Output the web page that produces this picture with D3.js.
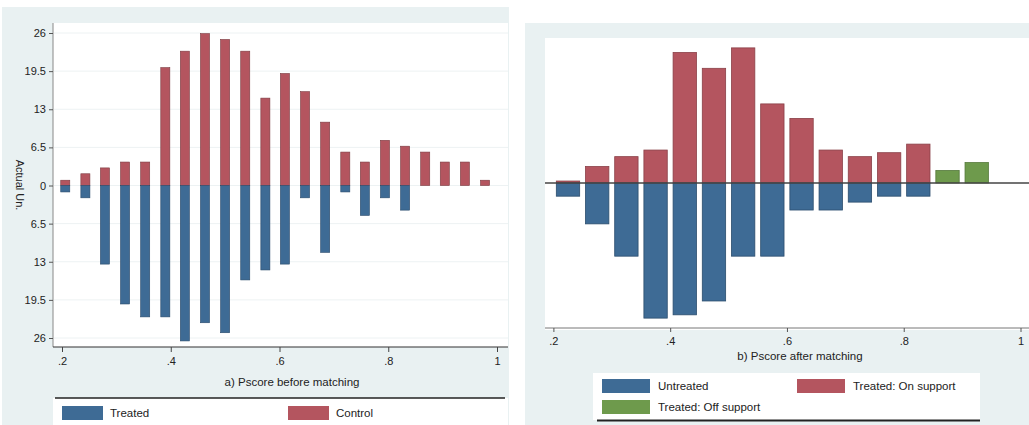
<!DOCTYPE html>
<html>
<head>
<meta charset="utf-8">
<script src="https://cdn.jsdelivr.net/npm/d3@7"></script>
<style>
  html, body { margin: 0; padding: 0; background: #ffffff; }
  svg { display: block; font-family: "Liberation Sans", Arial, sans-serif; }
</style>
</head>
<body>
<svg id="chart" width="1029" height="425"></svg>
<script>
// ---- Panel a: propensity score before matching ----
const binsBefore = [0.206, 0.243, 0.279, 0.316, 0.353, 0.390, 0.426, 0.463, 0.500, 0.537, 0.574,
                    0.610, 0.647, 0.684, 0.721, 0.757, 0.794, 0.831, 0.868, 0.904, 0.941, 0.978];
const controlBefore = [0.9, 2.0, 3.0, 4.0, 4.0, 20.1, 22.9, 25.9, 24.9, 22.9, 14.9,
                       19.1, 16.0, 10.8, 5.7, 4.0, 7.7, 6.7, 5.7, 4.0, 4.0, 0.9];
const treatedBefore = [1.1, 2.1, 13.4, 20.2, 22.4, 22.4, 26.5, 23.4, 25.1, 16.1, 14.4,
                       13.4, 2.1, 11.4, 1.1, 5.1, 2.1, 4.2, 0, 0, 0, 0];
const yTicksBefore = [-26, -19.5, -13, -6.5, 0, 6.5, 13, 19.5, 26];
const xTicks = [0.2, 0.4, 0.6, 0.8, 1.0];
const xTickLabels = [".2", ".4", ".6", ".8", "1"];

// ---- Panel b: propensity score after matching ----
const binsAfter = [0.225, 0.275, 0.325, 0.375, 0.425, 0.475, 0.525, 0.575,
                   0.625, 0.675, 0.725, 0.775, 0.825, 0.875, 0.925];
const untreatedAfter = [2, 6.2, 11.1, 20.5, 20, 17.9, 11.1, 11.1, 4.1, 4.1, 2.9, 2, 2, 0, 0];
const onSupportAfter = [0.3, 2.5, 4, 5, 19.8, 17.4, 20.5, 12, 9.8, 5, 4, 4.6, 5.9, 0, 0];
const offSupportAfter = [0, 0, 0, 0, 0, 0, 0, 0, 0, 0, 0, 0, 0, 1.9, 3.1];

const colBlue = "#3e6b95", colRed = "#b4555f", colGreen = "#6e9a4c";
const panelBg = "#e9f1f2", ink = "#222";

const svg = d3.select("#chart");

// ================= Panel a =================
const A = svg.append("g");
A.append("rect").attr("x", 2).attr("y", 7).attr("width", 507).attr("height", 418).attr("fill", panelBg);
A.append("rect").attr("x", 53).attr("y", 23).attr("width", 455).attr("height", 324).attr("fill", "#fff");

const xA = d3.scaleLinear().domain([0.2, 1.0]).range([62, 497]);
const yA = d3.scaleLinear().domain([-26, 26]).range([338, 33]);
const bwA = (xA(binsBefore[1]) - xA(binsBefore[0])) * 0.45;

// gridlines
A.append("g").selectAll("line").data(yTicksBefore).join("line")
  .attr("x1", 54).attr("x2", 508)
  .attr("y1", d => yA(d)).attr("y2", d => yA(d))
  .attr("stroke", "#edf2f3").attr("stroke-width", 1);

// control bars (upward)
A.append("g").selectAll("rect").data(binsBefore.map((b, i) => [b, controlBefore[i]])).join("rect")
  .attr("x", d => xA(d[0]) - bwA / 2).attr("width", bwA)
  .attr("y", d => yA(d[1])).attr("height", d => yA(0) - yA(d[1]))
  .attr("fill", colRed).attr("stroke", "#7a3a40").attr("stroke-width", 0.6);

// treated bars (downward)
A.append("g").selectAll("rect").data(binsBefore.map((b, i) => [b, treatedBefore[i]]).filter(d => d[1] > 0)).join("rect")
  .attr("x", d => xA(d[0]) - bwA / 2).attr("width", bwA)
  .attr("y", yA(0)).attr("height", d => yA(-d[1]) - yA(0))
  .attr("fill", colBlue).attr("stroke", "#28496a").attr("stroke-width", 0.6);

// y axis
const yAxisA = d3.axisLeft(yA).tickValues(yTicksBefore).tickSize(4)
  .tickFormat(d => String(Math.abs(d)));
A.append("g").attr("transform", "translate(53,0)").call(yAxisA)
  .call(g => g.select(".domain").attr("d", "M0,23V347").attr("stroke", "#888"))
  .call(g => g.selectAll(".tick line").attr("stroke", "#555"))
  .call(g => g.selectAll("text").attr("font-size", 11).attr("fill", ink)
    .attr("font-family", "Liberation Sans, Arial, sans-serif"));

A.append("text").attr("transform", "translate(16,185) rotate(90)")
  .attr("text-anchor", "middle").attr("font-size", 11).attr("fill", ink)
  .text("Actual Un.");

// x axis
const xAxisA = d3.axisBottom(xA).tickValues(xTicks).tickSize(5)
  .tickFormat((d, i) => xTickLabels[i]);
A.append("g").attr("transform", "translate(0,347)").call(xAxisA)
  .call(g => g.select(".domain").attr("d", "M53,0H508").attr("stroke", "#333").attr("stroke-width", 1.2))
  .call(g => g.selectAll(".tick line").attr("stroke", "#444"))
  .call(g => g.selectAll("text").attr("font-size", 11).attr("fill", ink).attr("dy", "0.9em")
    .attr("font-family", "Liberation Sans, Arial, sans-serif"));

A.append("text").attr("x", 292).attr("y", 386).attr("text-anchor", "middle")
  .attr("font-size", 11.5).attr("fill", ink).text("a)   Pscore before matching");

// legend
A.append("rect").attr("x", 53).attr("y", 398).attr("width", 455).attr("height", 27).attr("fill", "#fff");
A.append("line").attr("x1", 55).attr("x2", 505).attr("y1", 398).attr("y2", 398)
  .attr("stroke", "#222").attr("stroke-width", 1.5);
const legA = [{ label: "Treated", color: colBlue, x: 62 }, { label: "Control", color: colRed, x: 288 }];
const lgA = A.append("g").selectAll("g").data(legA).join("g");
lgA.append("rect").attr("x", d => d.x).attr("y", 406).attr("width", 41).attr("height", 14).attr("fill", d => d.color);
lgA.append("text").attr("x", d => d.x + 48).attr("y", 417).attr("font-size", 11.5).attr("fill", ink).text(d => d.label);

// ================= Panel b =================
const B = svg.append("g");
B.append("rect").attr("x", 525).attr("y", 23).attr("width", 504).attr("height", 402).attr("fill", panelBg);
B.append("rect").attr("x", 545).attr("y", 38).attr("width", 484).attr("height", 292).attr("fill", "#fff");

const xB = d3.scaleLinear().domain([0.2, 1.0]).range([553.4, 1020.5]);
const yB = d3.scaleLinear().domain([-22, 22]).range([328, 38]);
const bwB = (xB(binsAfter[1]) - xB(binsAfter[0])) * 0.8;

const stack = (vals, dir) => binsAfter.map((b, i) => [b, vals[i]]).filter(d => d[1] > 0);

B.append("g").selectAll("rect").data(stack(onSupportAfter)).join("rect")
  .attr("x", d => xB(d[0]) - bwB / 2).attr("width", bwB)
  .attr("y", d => yB(d[1])).attr("height", d => yB(0) - yB(d[1]))
  .attr("fill", colRed).attr("stroke", "#8a4048").attr("stroke-width", 0.8);

B.append("g").selectAll("rect").data(stack(offSupportAfter)).join("rect")
  .attr("x", d => xB(d[0]) - bwB / 2).attr("width", bwB)
  .attr("y", d => yB(d[1])).attr("height", d => yB(0) - yB(d[1]))
  .attr("fill", colGreen).attr("stroke", "#54783a").attr("stroke-width", 0.8);

B.append("g").selectAll("rect").data(stack(untreatedAfter)).join("rect")
  .attr("x", d => xB(d[0]) - bwB / 2).attr("width", bwB)
  .attr("y", yB(0)).attr("height", d => yB(-d[1]) - yB(0))
  .attr("fill", colBlue).attr("stroke", "#2b4d6d").attr("stroke-width", 0.8);

// zero line
B.append("line").attr("x1", 545).attr("x2", 1029).attr("y1", yB(0)).attr("y2", yB(0))
  .attr("stroke", "#444").attr("stroke-width", 1.3);

// x axis
const xAxisB = d3.axisBottom(xB).tickValues(xTicks).tickSize(4)
  .tickFormat((d, i) => xTickLabels[i]);
B.append("g").attr("transform", "translate(0,328)").call(xAxisB)
  .call(g => g.select(".domain").attr("d", "M545,0H1029").attr("stroke", "#777"))
  .call(g => g.selectAll(".tick line").attr("stroke", "#555"))
  .call(g => g.selectAll("text").attr("font-size", 11).attr("fill", ink).attr("dy", "0.9em")
    .attr("font-family", "Liberation Sans, Arial, sans-serif"));

B.append("text").attr("x", 800).attr("y", 360).attr("text-anchor", "middle")
  .attr("font-size", 11.5).attr("fill", ink).text("b) Pscore after matching");

// legend
B.append("rect").attr("x", 593).attr("y", 373).attr("width", 387).attr("height", 47).attr("fill", "#fff");
B.append("line").attr("x1", 597).attr("x2", 980).attr("y1", 420.5).attr("y2", 420.5)
  .attr("stroke", "#222").attr("stroke-width", 1.8);
const legB = [
  { label: "Untreated", color: colBlue, x: 602, y: 379 },
  { label: "Treated: On support", color: colRed, x: 797, y: 379 },
  { label: "Treated: Off support", color: colGreen, x: 602, y: 400 }
];
const lgB = B.append("g").selectAll("g").data(legB).join("g");
lgB.append("rect").attr("x", d => d.x).attr("y", d => d.y).attr("width", 48).attr("height", 14).attr("fill", d => d.color);
lgB.append("text").attr("x", d => d.x + 56).attr("y", d => d.y + 11).attr("font-size", 11.5).attr("fill", ink).text(d => d.label);
</script>
</body>
</html>
